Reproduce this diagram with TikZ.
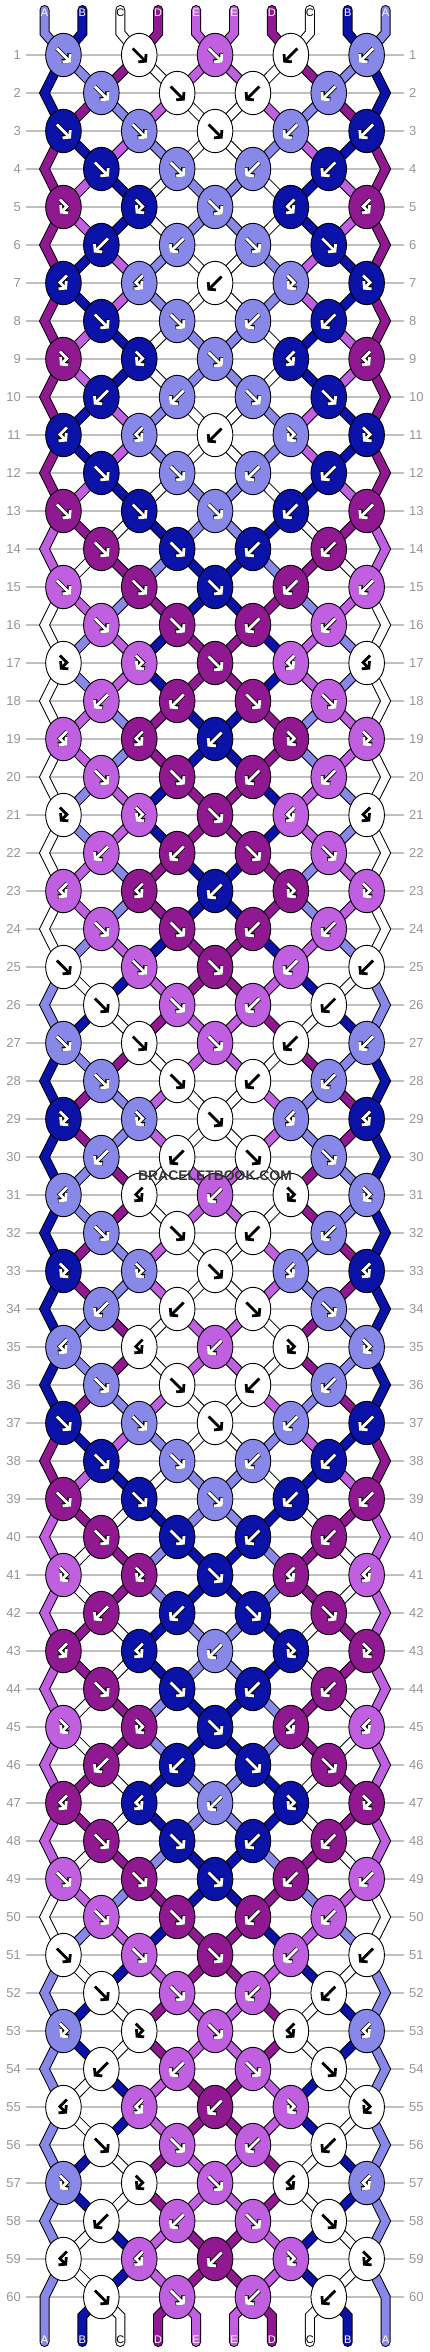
\documentclass[tikz,border=0pt]{standalone}
\usepackage{fontspec}
\setmainfont{Liberation Sans}
\usetikzlibrary{arrows.meta,shapes.geometric}
\definecolor{cA}{RGB}{136,136,232}
\definecolor{cB}{RGB}{10,18,168}
\definecolor{cC}{RGB}{255,255,255}
\definecolor{cD}{RGB}{144,24,144}
\definecolor{cE}{RGB}{192,96,224}
\definecolor{gridgray}{RGB}{192,192,192}
\definecolor{labgray}{RGB}{150,150,150}
\definecolor{wmgray}{RGB}{56,56,56}
\tikzset{
  knot/.style={ellipse, draw=black, line width=0.9pt, minimum width=35.6pt, minimum height=43.4pt, inner sep=0pt, outer sep=0pt},
  strandk/.style={line width=10pt, draw=black, line join=miter},
  strandc/.style={line width=8pt, line join=miter},
  stubk/.style={strandk, line cap=round},
  stubc/.style={strandc, line cap=round},
  rowline/.style={draw=gridgray, line width=1.2pt},
  rowlab/.style={text=labgray, font=\fontsize{13}{13}\selectfont, inner sep=0pt},
  endlab/.style={font=\fontsize{11}{11}\selectfont, inner sep=0pt},
  arrk/.style={line width=4.3pt, draw=black, line join=miter, -{Straight Barb[length=4.6pt,width=11pt]}},
  arrw/.style={line width=2.8pt, line join=miter, -{Straight Barb[length=4.6pt,width=11pt]}},
  wmark/.style={text=wmgray, font=\bfseries\fontsize{13.9}{14}\selectfont, inner sep=0pt}
}
\newcommand\setst[2]{\expandafter\xdef\csname bst#1\endcsname{#2}}
\newcommand\getst[1]{\csname bst#1\endcsname}
\newcommand\setval[2]{\expandafter\xdef\csname #1\endcsname{#2}}
\newcommand\getval[1]{\csname #1\endcsname}
\newcommand\drawglyph[2]{%
  \ifcase#1\relax\or
    \draw[#2] (-6.5,-6.5) -- (7.5,7.5);%
  \or
    \draw[#2] (6.5,-6.5) -- (-7.5,7.5);%
  \or
    \draw[#2] (-3.5,-7.5) -- (3.5,-0.5) -- (-3.5,6.5);%
  \or
    \draw[#2] (3.5,-7.5) -- (-3.5,-0.5) -- (3.5,6.5);%
  \fi}
\newcommand\kglyph[3]{%
  \begin{scope}[shift={(#2)}]%
    \if#3w%
      \drawglyph{#1}{arrk}%
      \drawglyph{#1}{arrw,draw=white}%
    \else
      \drawglyph{#1}{arrw,draw=black}%
    \fi
  \end{scope}}
\begin{document}
\begin{tikzpicture}[x=1pt,y=-1pt]
\useasboundingbox (0,0) rectangle (430,2352);
\fill[white] (0,0) rectangle (430,2352);
\setst{1}{cA}\setst{2}{cB}\setst{3}{cC}\setst{4}{cD}\setst{5}{cE}%
\setst{6}{cE}\setst{7}{cD}\setst{8}{cC}\setst{9}{cB}\setst{10}{cA}%
\def\whitename{cC}%
% ---- pass A: grid, labels, positions, simulation
\foreach \n in {1,...,60}{%
  \pgfmathsetmacro\yy{55+38*(\n-1)}%
  \coordinate (gl\n) at (26,\yy);
  \coordinate (gr\n) at (404,\yy);
  \draw[rowline] (gl\n) -- (gr\n);
  \node[rowlab,anchor=east] (ll\n) at (21,\yy) {\n};
  \node[rowlab,anchor=west] (lr\n) at (409,\yy) {\n};
  \pgfmathtruncatemacro\mm{mod(\n-1,12)}%
  \ifodd\n\relax
    \def\sz{1}%
    \ifnum\mm<4 \def\tlist{1,1,1,2,2}\else
      \ifnum\mm=4 \def\tlist{3,3,1,4,4}\else
      \ifnum\mm=8 \def\tlist{3,3,1,4,4}\else
      \def\tlist{4,4,2,3,3}\fi\fi\fi
  \else
    \def\sz{2}%
    \coordinate (k\n-1) at (44.5,\yy);
    \coordinate (k\n-10) at (385.6,\yy);
    \ifnum\mm=5 \def\tlist{2,2,1,1}\else
      \ifnum\mm=9 \def\tlist{2,2,1,1}\else
      \def\tlist{1,1,2,2}\fi\fi
  \fi
  \setval{tl-\n}{\tlist}%
  \setval{sz-\n}{\sz}%
  \foreach \pp in {1,...,10}{\setval{sc-\n-\pp}{\getst{\pp}}}%
  \foreach \ty [count=\jj] in \tlist {%
    \pgfmathtruncatemacro\kp{\sz+2*(\jj-1)}%
    \pgfmathtruncatemacro\kq{\kp+1}%
    \pgfmathsetmacro\kx{44.5+37.9*(\kp-1)+18.95}%
    \coordinate (k\n-\kp) at (\kx,\yy);
    \coordinate (k\n-\kq) at (\kx,\yy);
    \ifodd\ty\relax \setval{kc-\n-\jj}{\getst{\kp}}\else \setval{kc-\n-\jj}{\getst{\kq}}\fi
  }%
  \foreach \ty [count=\jj] in \tlist {%
    \ifnum\ty<3
      \pgfmathtruncatemacro\kp{\sz+2*(\jj-1)}%
      \pgfmathtruncatemacro\kq{\kp+1}%
      \edef\tmpa{\getst{\kp}}\edef\tmpb{\getst{\kq}}%
      \setst{\kp}{\tmpb}\setst{\kq}{\tmpa}%
    \fi
  }%
}
% string end points
\foreach \pp in {1,...,10}{%
  \pgfmathsetmacro\xx{44.5+37.9*(\pp-1)}%
  \coordinate (ta\pp) at (\xx,10);
  \coordinate (tb\pp) at (\xx,33);
  \coordinate (ba\pp) at (\xx,2342);
  \coordinate (bb\pp) at (\xx,2316);
}
% ---- pass B/C: strands (outline, then colour)
\foreach \sty in {k,c}{%
  \foreach \pp in {1,...,10}{%
    \edef\strc{\getval{sc-1-\pp}}%
    \if k\sty \draw[stubk] (ta\pp) -- (tb\pp) -- (k1-\pp);
    \else \draw[stubc,draw=\strc] (ta\pp) -- (tb\pp) -- (k1-\pp);\fi
  }
  \foreach \n in {2,...,60}{%
    \pgfmathtruncatemacro\np{\n-1}%
    \foreach \pp in {2,...,9}{%
      \edef\strc{\getval{sc-\n-\pp}}%
      \if k\sty \draw[strandk] (k\np-\pp) -- (k\n-\pp);
      \else \draw[strandc,draw=\strc] (k\np-\pp) -- (k\n-\pp);\fi
    }
    \ifodd\n\relax
      \pgfmathtruncatemacro\npp{\n-2}%
      \foreach \pp in {1,10}{%
        \edef\strc{\getval{sc-\n-\pp}}%
        \if k\sty \draw[strandk] (k\npp-\pp) -- (k\np-\pp) -- (k\n-\pp);
        \else \draw[strandc,draw=\strc] (k\npp-\pp) -- (k\np-\pp) -- (k\n-\pp);\fi
      }
    \fi
  }
  \foreach \pp in {1,...,10}{%
    \edef\strc{\getst{\pp}}%
    \ifnum\pp=1 \def\edgeflag{1}\else\ifnum\pp=10 \def\edgeflag{1}\else\def\edgeflag{0}\fi\fi
    \if1\edgeflag
      \if k\sty \draw[stubk] (k59-\pp) -- (k60-\pp) -- (ba\pp);
      \else \draw[stubc,draw=\strc] (k59-\pp) -- (k60-\pp) -- (ba\pp);\fi
    \else
      \if k\sty \draw[stubk] (k60-\pp) -- (bb\pp) -- (ba\pp);
      \else \draw[stubc,draw=\strc] (k60-\pp) -- (bb\pp) -- (ba\pp);\fi
    \fi
  }
}
% ---- pass D: knots
\foreach \n in {1,...,60}{%
  \edef\tlist{\getval{tl-\n}}%
  \edef\sz{\getval{sz-\n}}%
  \foreach \ty [count=\jj] in \tlist {%
    \pgfmathtruncatemacro\kp{\sz+2*(\jj-1)}%
    \edef\kc{\getval{kc-\n-\jj}}%
    \node[knot, fill=\kc] (n\n-\jj) at (k\n-\kp) {};
    \ifx\kc\whitename \kglyph{\ty}{n\n-\jj.center}{b}\else \kglyph{\ty}{n\n-\jj.center}{w}\fi
  }
}
% ---- string letters
\foreach \pp/\lt/\lc in {1/A/white,2/B/white,3/C/black,4/D/white,5/E/white,6/E/white,7/D/white,8/C/black,9/B/white,10/A/white}{%
  \node[endlab,text=\lc] (tl\pp) at ([yshift=-3pt]ta\pp) {\lt};
  \node[endlab,text=\lc] (bl\pp) at ([yshift=2pt]ba\pp) {\lt};
}
\node[wmark] (wm) at (215,1176) {BRACELETBOOK.COM};
\end{tikzpicture}
\end{document}
